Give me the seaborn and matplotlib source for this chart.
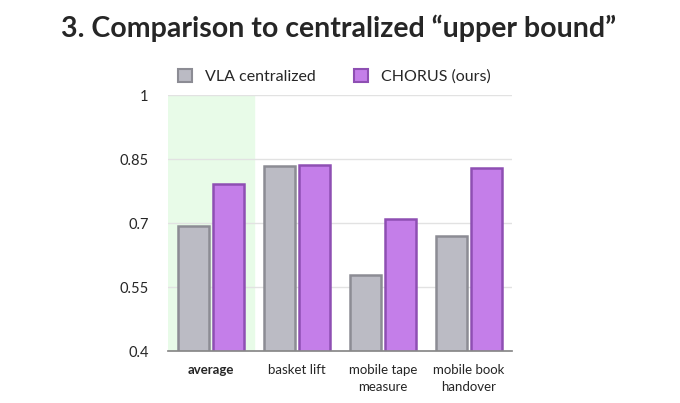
import matplotlib
matplotlib.use('Agg')
import matplotlib.pyplot as plt
import pandas as pd
import seaborn as sns

categories = ['average', 'basket lift', 'mobile tape\nmeasure', 'mobile book\nhandover']
methods = ['VLA centralized', 'CHORUS (ours)']
vla_scores = [0.693, 0.834, 0.578, 0.670]
chorus_scores = [0.791, 0.836, 0.709, 0.829]
yticks = [0.4, 0.55, 0.7, 0.85, 1.0]
ytick_labels = ['0.4', '0.55', '0.7', '0.85', '1']

df = pd.DataFrame({
    'task': categories * 2,
    'method': [methods[0]] * 4 + [methods[1]] * 4,
    'score': vla_scores + chorus_scores,
})

sns.set_theme(style='white')
plt.rcParams['font.family'] = ['Lato', 'DejaVu Sans']

face = {methods[0]: '#bbbbc4', methods[1]: '#c47ee9'}
edge = ['#8c8c94', '#8e4fb3']

fig = plt.figure(figsize=(6.8, 4.03), dpi=100)
ax = fig.add_axes([0.247, 0.129, 0.506, 0.635])

ax.axvspan(-0.5, 0.5, color='#e8fbe8', zorder=0)
for y in yticks[1:]:
    ax.axhline(y, color='#e2e2e2', lw=1, zorder=0.5)

sns.barplot(data=df, x='task', y='score', hue='method', palette=face,
            saturation=1, width=0.8, gap=0.1, ax=ax, legend=False, zorder=2)
for i, cont in enumerate(ax.containers):
    for bar in cont:
        bar.set_edgecolor(edge[i])
        bar.set_linewidth(1.8)

ax.set_ylim(0.4, 1.0)
ax.set_xlim(-0.5, 3.5)
ax.set_yticks(yticks)
ax.set_yticklabels(ytick_labels, fontsize=10.5)
ax.set_xlabel('')
ax.set_ylabel('')
ax.tick_params(axis='x', labelsize=9.5, length=0, pad=9)
ax.tick_params(axis='y', length=0, pad=14)
for lbl in ax.get_xticklabels():
    lbl.set_linespacing(1.5)
ax.get_xticklabels()[0].set_fontweight('bold')
sns.despine(ax=ax, left=True, top=True, right=True)
ax.spines['bottom'].set_color('#888888')

# legend
handles = [plt.Rectangle((0, 0), 1, 1, facecolor=face[m], edgecolor=edge[i], lw=1.5)
           for i, m in enumerate(methods)]
fig.legend(handles, methods, loc='center left', bbox_to_anchor=(0.24, 0.81),
           ncol=2, frameon=False, fontsize=11.5, handlelength=0.9, handleheight=0.9,
           columnspacing=2.4, handletextpad=0.8)

fig.text(0.09, 0.93, '3. Comparison to centralized \u201cupper bound\u201d',
         fontsize=20.5, fontweight='bold', va='center', ha='left')

fig.savefig('out.png', dpi=100)
